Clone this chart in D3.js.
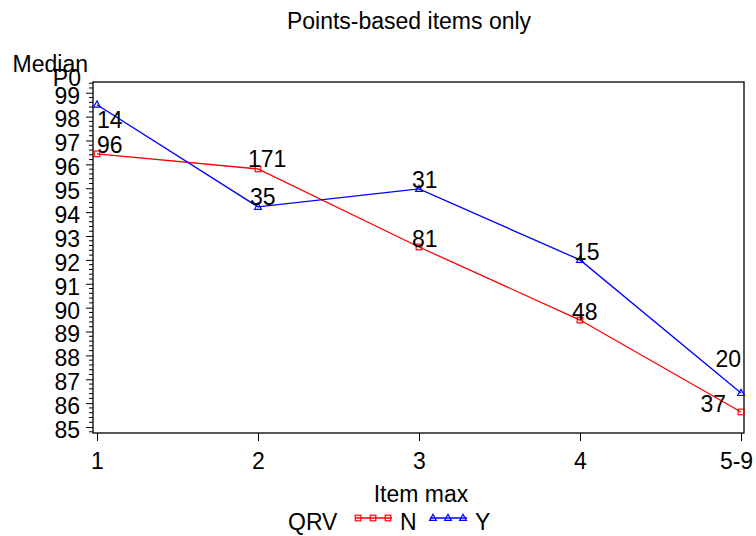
<!DOCTYPE html>
<html>
<head>
<meta charset="utf-8">
<script src="https://cdn.jsdelivr.net/npm/d3@7"></script>
<style>
  body { margin: 0; background: #fff; }
  text { font-family: "Liberation Sans", Arial, sans-serif; fill: #000; }
</style>
</head>
<body>
<script>
// data
var itemMax = ["1", "2", "3", "4", "5-9"];
var medianN = [96.44, 95.81, 92.54, 89.48, 85.63];
var medianY = [98.50, 94.22, 94.97, 92.00, 86.42];
var countN = [96, 171, 81, 48, 37];
var countY = [14, 35, 31, 15, 20];
var yTicks = d3.range(85, 100);

var W = 756, H = 536;
var plotL = 93, plotR = 744, plotT = 82, plotB = 433;

var svg = d3.select("body").append("svg").attr("width", W).attr("height", H);

var x = d3.scalePoint().domain(itemMax).range([97, 741]);
var y = d3.scaleLinear().domain([84.75, 99.45]).range([plotB, plotT]);

// frame
svg.append("rect")
  .attr("x", plotL).attr("y", plotT)
  .attr("width", plotR - plotL).attr("height", plotB - plotT)
  .attr("fill", "none").attr("stroke", "#000").attr("stroke-width", 1.3);

// y axis: majors with labels, minor ticks every 0.2
var yAxis = d3.axisLeft(y).tickValues(yTicks).tickSize(7).tickPadding(6).tickFormat(d3.format("d"));
var gy = svg.append("g").attr("transform", "translate(" + plotL + ",0)").call(yAxis);
gy.attr("font-family", null).attr("font-size", null);
gy.select(".domain").remove();
gy.selectAll("text").attr("font-size", 23).style("font-size", "23px").attr("dy", "0.45em");
gy.selectAll("line").attr("stroke-width", 1);

var minor = d3.range(84.8, 99.41, 0.2).filter(function(v) { return Math.abs(v - Math.round(v)) > 0.05; });
svg.append("g").selectAll("line").data(minor).enter().append("line")
  .attr("x1", plotL - 4).attr("x2", plotL)
  .attr("y1", function(d) { return y(d); }).attr("y2", function(d) { return y(d); })
  .attr("stroke", "#000").attr("stroke-width", 1);

// x axis
var xAxis = d3.axisBottom(x).tickSize(8).tickPadding(12);
var gx = svg.append("g").attr("transform", "translate(0," + plotB + ")").call(xAxis);
gx.attr("font-family", null).attr("font-size", null);
gx.select(".domain").remove();
gx.selectAll("text").attr("font-size", 23).style("font-size", "23px")
  .attr("dx", function(d) { return d == "5-9" ? -5 : 0; });

// titles
svg.append("text").attr("x", 409).attr("y", 29).attr("text-anchor", "middle")
  .style("font-size", "23px").text("Points-based items only");
svg.append("text").attr("x", 421).attr("y", 502).attr("text-anchor", "middle")
  .style("font-size", "23px").text("Item max");
svg.append("text").attr("x", 88).attr("y", 72).attr("text-anchor", "end")
  .style("font-size", "23px").text("Median");
svg.append("text").attr("x", 81).attr("y", 86).attr("text-anchor", "end")
  .style("font-size", "23px").text("P0");

var series = [
  { name: "N", color: "#ff0000", vals: medianN, counts: countN, marker: "square",
    lab: [[0, -1, "start"], [-10, -2, "start"], [-7, 0, "start"], [-8, 0, "start"], [-15, 0, "end"]] },
  { name: "Y", color: "#0000ff", vals: medianY, counts: countY, marker: "triangle",
    lab: [[0, 23, "start"], [-8, -2, "start"], [-7, -1, "start"], [-6, 0, "start"], [0, -26, "end"]] }
];

function drawMarker(g, type, color) {
  if (type == "square") {
    g.append("rect").attr("x", -2.8).attr("y", -2.8).attr("width", 5.6).attr("height", 5.6)
      .attr("fill", "none").attr("stroke", color).attr("stroke-width", 1.2);
  } else {
    g.append("path").attr("d", "M0,-3.8L3.4,2.4L-3.4,2.4Z")
      .attr("fill", "none").attr("stroke", color).attr("stroke-width", 1.2);
  }
}

var line = d3.line().x(function(d, i) { return x(itemMax[i]); }).y(function(d) { return y(d); });

series.forEach(function(s) {
  svg.append("path").datum(s.vals).attr("d", line)
    .attr("fill", "none").attr("stroke", s.color).attr("stroke-width", 1.3);

  s.vals.forEach(function(v, i) {
    var g = svg.append("g").attr("transform", "translate(" + x(itemMax[i]) + "," + y(v) + ")");
    drawMarker(g, s.marker, s.color);
  });

  svg.append("g").selectAll("text").data(s.vals).enter().append("text")
    .attr("x", function(d, i) { return x(itemMax[i]) + s.lab[i][0]; })
    .attr("y", function(d, i) { return y(d) + s.lab[i][1]; })
    .attr("text-anchor", function(d, i) { return s.lab[i][2]; })
    .style("font-size", "23px")
    .text(function(d, i) { return s.counts[i]; });
});

// legend
var leg = svg.append("g");
leg.append("text").attr("x", 288).attr("y", 530).style("font-size", "23px").text("QRV");
var legX = [355, 430];
series.forEach(function(s, k) {
  var x0 = legX[k];
  leg.append("line").attr("x1", x0).attr("x2", x0 + 37).attr("y1", 518).attr("y2", 518)
    .attr("stroke", s.color).attr("stroke-width", 1.3);
  [3, 18, 33].forEach(function(dx) {
    var g = leg.append("g").attr("transform", "translate(" + (x0 + dx) + ",518)");
    drawMarker(g, s.marker, s.color);
  });
  leg.append("text").attr("x", x0 + 45).attr("y", 530).style("font-size", "23px").text(s.name);
});
</script>
</body>
</html>
